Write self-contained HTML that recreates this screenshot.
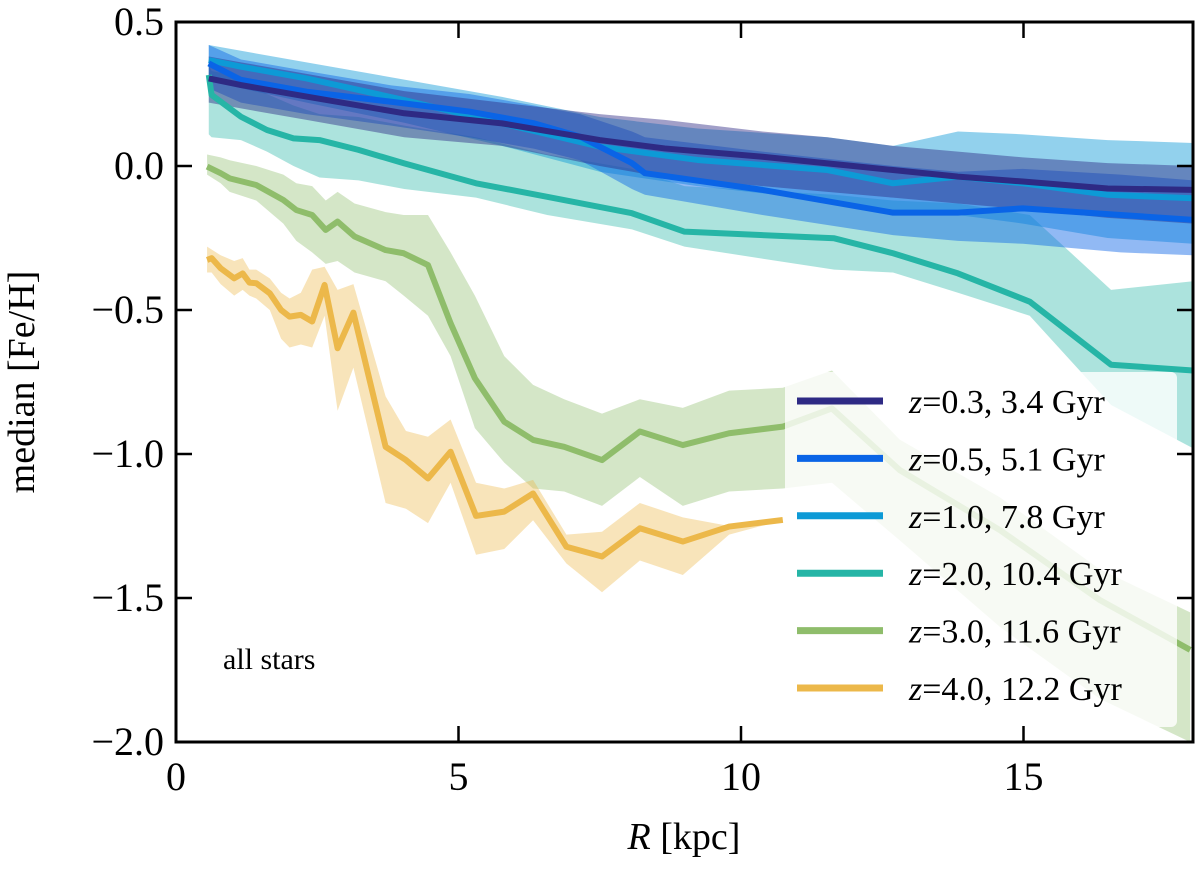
<!DOCTYPE html>
<html><head><meta charset="utf-8"><style>
body{margin:0;background:#fff;}
svg text{font-family:"Liberation Serif",serif;fill:#000;}
</style></head><body>
<svg id="chart" width="1200" height="872" xmlns="http://www.w3.org/2000/svg">
<defs><clipPath id="clip"><rect x="176" y="22" width="1017" height="720"/></clipPath></defs>
<g id="bands" clip-path="url(#clip)"></g>
<g id="lines" clip-path="url(#clip)"></g>
<g id="legend"></g>
<text x="223" y="669" font-size="30">all stars</text>
<g id="axes"></g>
<text x="34" y="382" font-size="38" text-anchor="middle" transform="rotate(-90 34 382)">median [Fe/H]</text>
<text x="684" y="849" font-size="38" text-anchor="middle"><tspan font-style="italic">R</tspan> [kpc]</text>
</svg>
<script>
const xTicks=[0,5,10,15];
const yTicks=[0.5,0.0,-0.5,-1.0,-1.5,-2.0];
const yTickLabels=["0.5","0.0","\u22120.5","\u22121.0","\u22121.5","\u22122.0"];
const seriesNames=["z=0.3, 3.4 Gyr","z=0.5, 5.1 Gyr","z=1.0, 7.8 Gyr","z=2.0, 10.4 Gyr","z=3.0, 11.6 Gyr","z=4.0, 12.2 Gyr"];
const zLabels=["0.3, 3.4 Gyr","0.5, 5.1 Gyr","1.0, 7.8 Gyr","2.0, 10.4 Gyr","3.0, 11.6 Gyr","4.0, 12.2 Gyr"];
const colors=["#2e2a84","#0a64e6","#0d9ad6","#26b5a6","#8fbd6b","#ecb84a"];

const r03=[0.58,1.15,2.31,4.04,5.77,7.50,8.65,10.38,11.53,12.69,13.84,14.99,16.49,18];
const v03=[0.304,0.281,0.241,0.183,0.148,0.090,0.061,0.032,0.009,-0.014,-0.037,-0.054,-0.078,-0.083];
const hi03=[0.38,0.36,0.32,0.26,0.22,0.18,0.16,0.12,0.10,0.07,0.05,0.03,0.01,0.0];
const lo03=[0.22,0.20,0.16,0.10,0.07,0.00,-0.04,-0.07,-0.09,-0.11,-0.13,-0.15,-0.18,-0.20];

const r05=[0.58,1.15,2.31,3.81,5.19,6.34,7.15,8.07,8.30,10.38,12.69,13.84,14.99,16.72,18];
const v05=[0.356,0.299,0.258,0.223,0.189,0.148,0.102,0.010,-0.025,-0.083,-0.162,-0.162,-0.147,-0.170,-0.187];
const hi05=[0.42,0.37,0.33,0.28,0.25,0.21,0.18,0.12,0.10,0.05,0.0,-0.02,-0.01,-0.03,-0.05];
const lo05=[0.27,0.22,0.18,0.14,0.10,0.06,0.02,-0.08,-0.10,-0.17,-0.24,-0.26,-0.27,-0.30,-0.31];

const r10=[0.58,1.15,2.31,4.04,5.77,7.50,9.23,11.53,12.69,13.84,14.99,16.49,18];
const v10=[0.368,0.345,0.304,0.229,0.148,0.067,0.021,-0.014,-0.060,-0.037,-0.060,-0.100,-0.112];
const hi10=[0.42,0.40,0.36,0.30,0.24,0.17,0.13,0.10,0.07,0.12,0.11,0.09,0.08];
const lo10=[0.30,0.27,0.22,0.15,0.07,-0.02,-0.07,-0.12,-0.17,-0.17,-0.20,-0.25,-0.27];

const r20=[0.58,0.63,1.15,1.61,2.08,2.54,3.23,4.04,5.31,6.57,8.07,9.00,11.65,12.69,13.84,15.11,16.55,18];
const v20=[0.316,0.247,0.171,0.125,0.096,0.090,0.056,0.009,-0.060,-0.107,-0.164,-0.228,-0.251,-0.303,-0.373,-0.471,-0.69,-0.71];
const hi20=[0.35,0.33,0.31,0.25,0.21,0.18,0.17,0.14,0.10,0.04,-0.01,-0.07,-0.10,-0.12,-0.13,-0.17,-0.43,-0.40];
const lo20=[0.11,0.10,0.09,0.05,0.0,-0.04,-0.05,-0.08,-0.11,-0.17,-0.22,-0.28,-0.36,-0.37,-0.44,-0.52,-0.83,-0.98];

const r30=[0.55,0.79,0.95,1.42,1.90,2.13,2.41,2.65,2.86,3.16,3.71,4.03,4.46,4.86,5.29,5.81,6.32,6.87,7.54,8.21,8.97,9.79,10.74,11.61,12.81,14.58,16.35,17.95];
const v30=[-0.002,-0.025,-0.043,-0.066,-0.118,-0.153,-0.170,-0.222,-0.193,-0.245,-0.292,-0.303,-0.344,-0.546,-0.737,-0.888,-0.951,-0.975,-1.021,-0.922,-0.969,-0.928,-0.905,-0.842,-1.056,-1.264,-1.507,-1.68];
const hi30=[0.04,0.03,0.02,0.0,-0.03,-0.06,-0.07,-0.12,-0.09,-0.13,-0.16,-0.17,-0.17,-0.30,-0.45,-0.66,-0.76,-0.81,-0.86,-0.81,-0.84,-0.78,-0.77,-0.71,-0.95,-1.15,-1.4,-1.55];
const lo30=[-0.03,-0.06,-0.09,-0.12,-0.20,-0.26,-0.30,-0.34,-0.33,-0.37,-0.40,-0.45,-0.52,-0.66,-0.91,-1.03,-1.12,-1.13,-1.18,-1.08,-1.18,-1.13,-1.12,-1.10,-1.30,-1.60,-1.85,-2.0];

const r40=[0.55,0.63,0.79,1.03,1.18,1.30,1.42,1.66,1.86,2.01,2.21,2.41,2.63,2.86,3.14,3.71,4.07,4.46,4.86,5.31,5.81,6.32,6.91,7.54,8.21,8.97,9.79,10.74];
const v40=[-0.326,-0.320,-0.355,-0.390,-0.373,-0.405,-0.407,-0.442,-0.500,-0.523,-0.517,-0.540,-0.413,-0.633,-0.509,-0.975,-1.021,-1.085,-0.992,-1.215,-1.200,-1.137,-1.322,-1.356,-1.258,-1.304,-1.252,-1.229];
const hi40=[-0.28,-0.29,-0.31,-0.33,-0.32,-0.36,-0.36,-0.39,-0.44,-0.46,-0.44,-0.36,-0.35,-0.43,-0.41,-0.80,-0.92,-0.94,-0.88,-1.10,-1.12,-1.09,-1.28,-1.27,-1.17,-1.22,-1.25,-1.23];
const lo40=[-0.37,-0.37,-0.41,-0.45,-0.43,-0.45,-0.46,-0.50,-0.60,-0.63,-0.62,-0.63,-0.52,-0.85,-0.70,-1.17,-1.19,-1.24,-1.10,-1.35,-1.33,-1.23,-1.38,-1.48,-1.37,-1.42,-1.28,-1.23];

const X0=176,X1=1193,Y0=22,Y1=742,XMAX=18,YMIN=-2.0,YMAX=0.5;
function xs(v){return X0+(v/XMAX)*(X1-X0);}
function ys(v){return Y0+(YMAX-v)/(YMAX-YMIN)*(Y1-Y0);}
const NS="http://www.w3.org/2000/svg";
function mk(tag,attrs,parent){const e=document.createElementNS(NS,tag);for(const k in attrs)e.setAttribute(k,attrs[k]);parent.appendChild(e);return e;}

const series=[[r03,v03,hi03,lo03],[r05,v05,hi05,lo05],[r10,v10,hi10,lo10],[r20,v20,hi20,lo20],[r30,v30,hi30,lo30],[r40,v40,hi40,lo40]];
const bandOrder=[3,4,5,2,1,0];
const bands=document.getElementById('bands'),lines=document.getElementById('lines');
bandOrder.forEach(i=>{
  const [r,v,hi,lo]=series[i];
  let pts=r.map((x,k)=>xs(x)+','+ys(hi[k]));
  for(let k=r.length-1;k>=0;k--)pts.push(xs(r[k])+','+ys(lo[k]));
  const p=mk('polygon',{points:pts.join(' '),fill:colors[i],'fill-opacity':i<3?0.45:0.38},bands);
  
  
});
[5,4,3,2,1,0].forEach(i=>{
  const [r,v]=series[i];
  const p=mk('polyline',{points:r.map((x,k)=>xs(x)+','+ys(v[k])).join(' '),fill:'none',stroke:colors[i],'stroke-width':6,'stroke-linejoin':'round'},lines);
  
  
});

const lg=document.getElementById('legend');
const box=mk('rect',{x:785,y:372,width:392,height:355,rx:6,fill:'#fff','fill-opacity':0.8},lg);


zLabels.forEach((t,i)=>{
  const y=401+i*57.4;
  const l=mk('line',{x1:797,x2:883,y1:y,y2:y,stroke:colors[i],'stroke-width':7},lg);
  
  
  const tx=mk('text',{x:909,y:y+12,'font-size':34},lg);
  
  
  const a=mk('tspan',{'font-style':'italic'},tx);a.textContent='z';
  const b=mk('tspan',{},tx);b.textContent='='+t;
});

const ax=document.getElementById('axes');
const fr=mk('rect',{x:X0,y:Y0,width:X1-X0,height:Y1-Y0,fill:'none',stroke:'#000','stroke-width':3},ax);


xTicks.forEach(t=>{
  const x=xs(t);
  mk('line',{x1:x,x2:x,y1:Y1,y2:Y1-16,stroke:'#000','stroke-width':2.5},ax);
  mk('line',{x1:x,x2:x,y1:Y0,y2:Y0+16,stroke:'#000','stroke-width':2.5},ax);
  const tx=mk('text',{x:x,y:Y1+48,'font-size':40,'text-anchor':'middle'},ax);
  tx.textContent=String(t);
  
  
});
yTicks.forEach((t,i)=>{
  const y=ys(t);
  mk('line',{x1:X0,x2:X0+16,y1:y,y2:y,stroke:'#000','stroke-width':2.5},ax);
  mk('line',{x1:X1,x2:X1-16,y1:y,y2:y,stroke:'#000','stroke-width':2.5},ax);
  const tx=mk('text',{x:X0-12,y:y+13,'font-size':40,'text-anchor':'end'},ax);
  tx.textContent=yTickLabels[i];
  
  
});
</script>
</body></html>
